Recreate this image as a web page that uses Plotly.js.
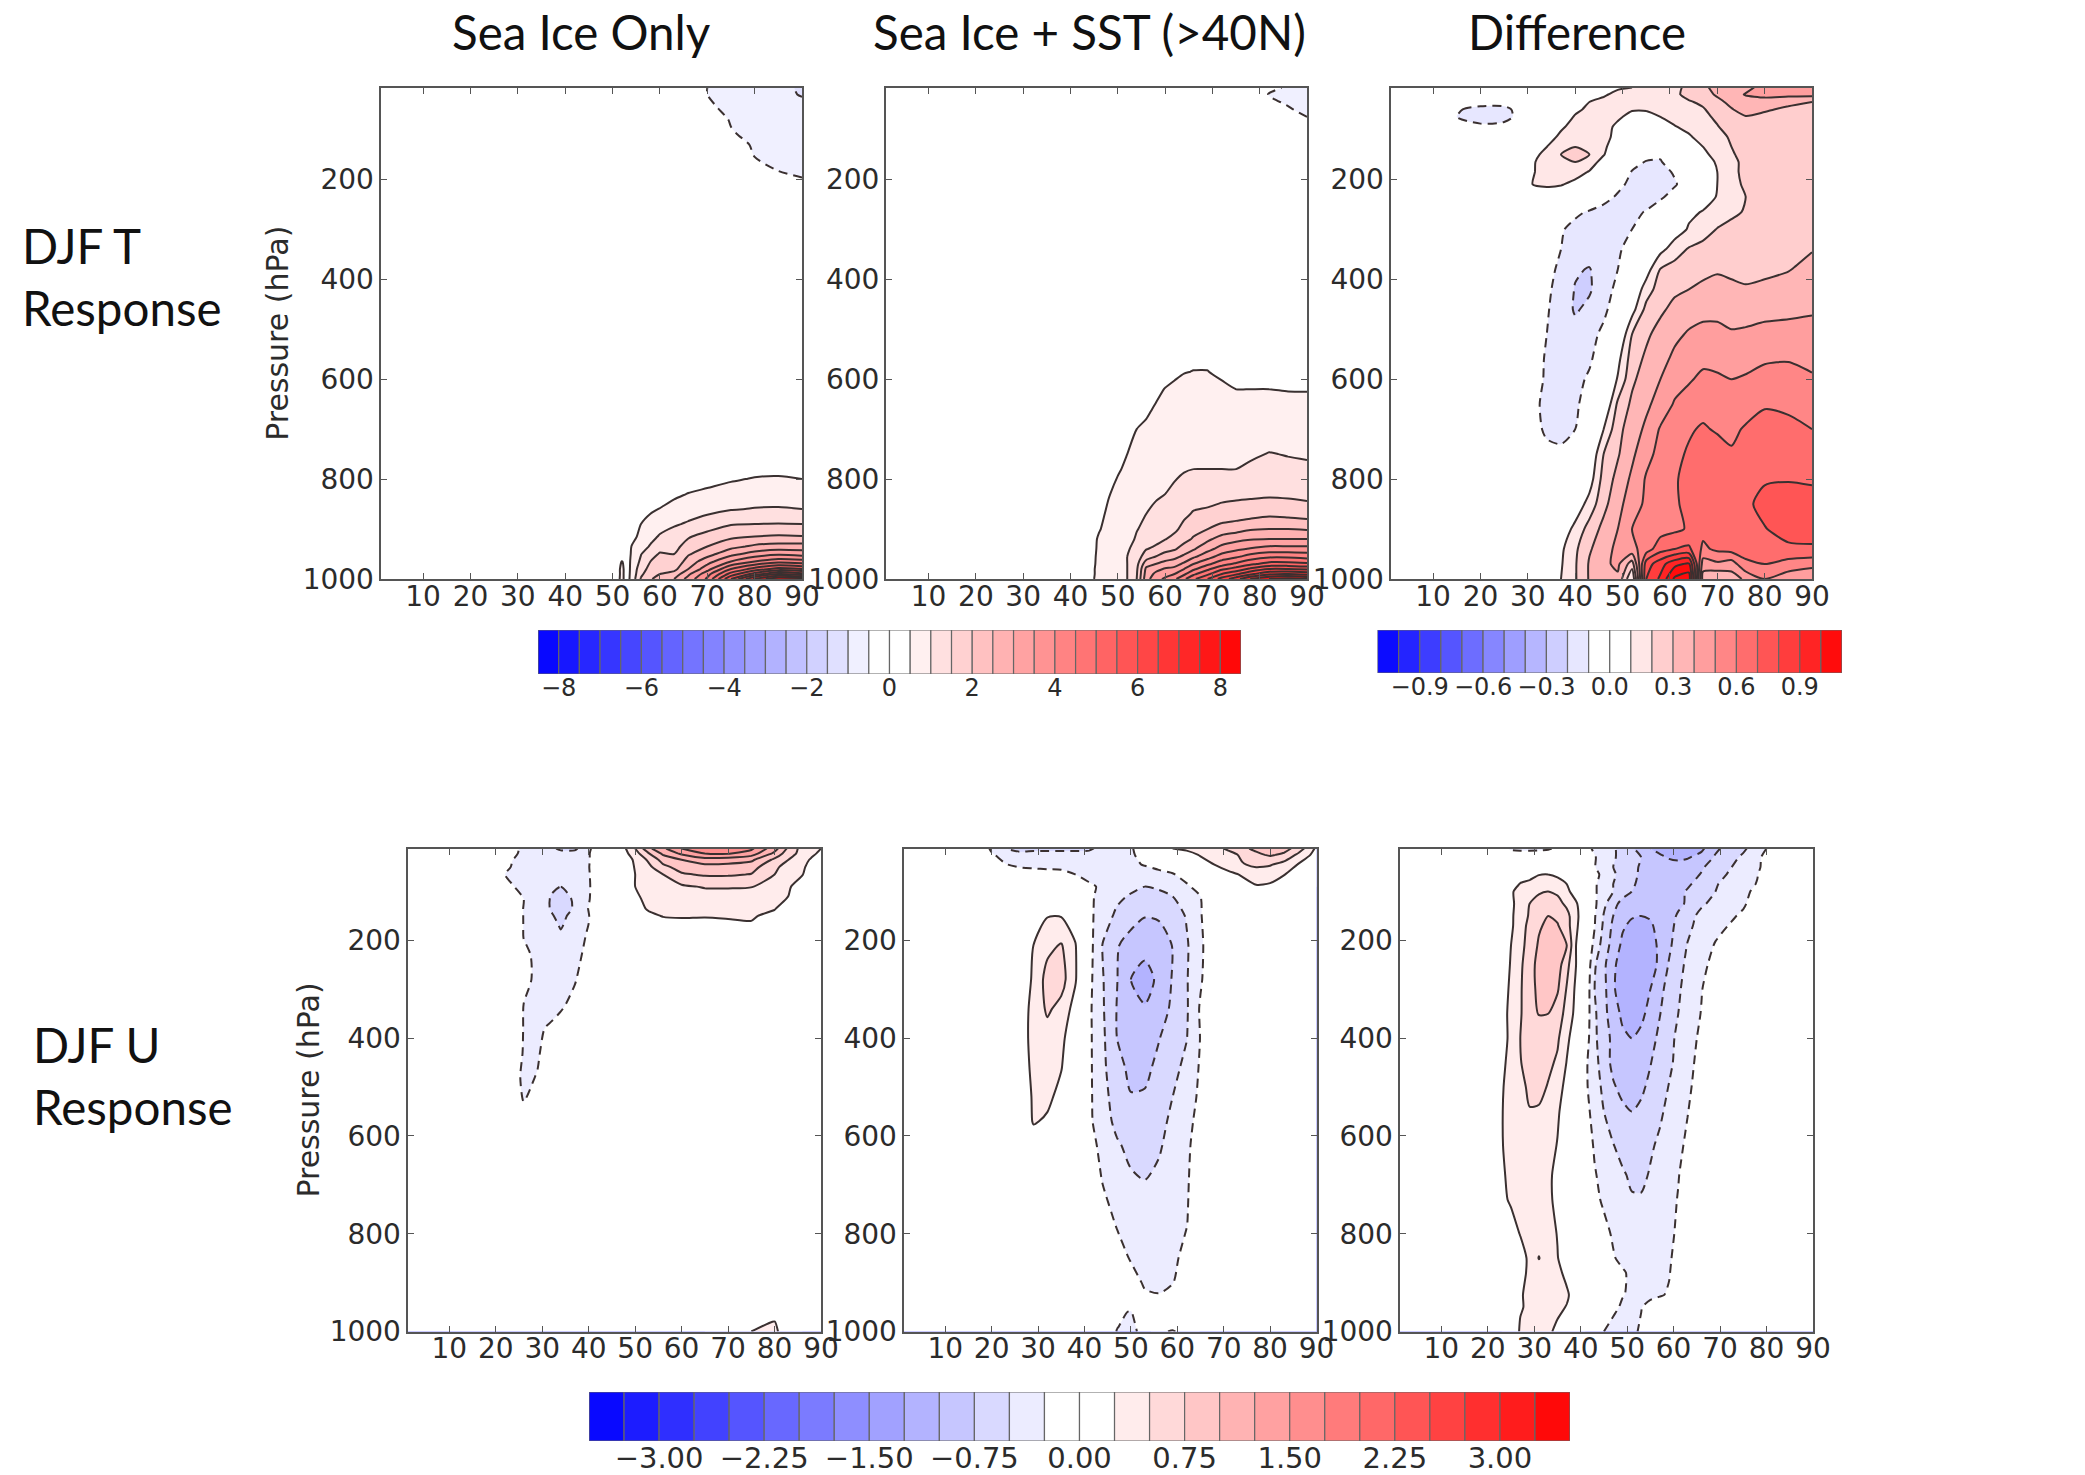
<!DOCTYPE html>
<html><head><meta charset="utf-8">
<script src="https://cdn.plot.ly/plotly-3.0.1.min.js"></script>
<style>html,body{margin:0;padding:0;background:#fff}#c{width:2085px;height:1475px}</style>
</head><body><div id="c"></div>
<script>
// ---------- DJF T, Sea Ice Only ----------
const lat1=[1,10,20,30,40,50,52,53,54,56,58,60,63,66,70,75,80,85,90];
const p1=[16,30,54,80,109,130,155,183,196,230,300,700,760,800,830,860,890,915,935,950,965,980,990,1000];
const z1=[
[0,0,0,0,0,0,0,0,0,0,0,0,0,-.3,-.5,-.6,-.7,-.8,-1.1],
[0,0,0,0,0,0,0,0,0,0,0,0,0,-.3,-.5,-.6,-.68,-.8,-1.05],
[0,0,0,0,0,0,0,0,0,0,0,0,0,-.25,-.45,-.58,-.65,-.72,-.8],
[0,0,0,0,0,0,0,0,0,0,0,0,0,-.2,-.35,-.52,-.6,-.65,-.72],
[0,0,0,0,0,0,0,0,0,0,0,0,0,-.15,-.25,-.48,-.56,-.62,-.66],
[0,0,0,0,0,0,0,0,0,0,0,0,0,-.1,-.2,-.4,-.53,-.58,-.62],
[0,0,0,0,0,0,0,0,0,0,0,0,0,-.05,-.15,-.3,-.5,-.55,-.58],
[0,0,0,0,0,0,0,0,0,0,0,0,0,0,-.1,-.2,-.35,-.5,-.53],
[0,0,0,0,0,0,0,0,0,0,0,0,0,0,-.05,-.15,-.3,-.4,-.5],
[0,0,0,0,0,0,0,0,0,0,0,0,0,0,0,-.05,-.1,-.2,-.3],
[],
[],
[0,0,0,0,0,0,0,0,0,0,0,0,0,0,.05,.1,.2,.22,.2],
[0,0,0,0,0,0,0,0,0,0,0,0,.1,.25,.35,.45,.53,.55,.5],
[0,0,0,0,0,0,0,0,0,0,.05,.2,.4,.52,.6,.72,.78,.8,.78],
[0,0,0,0,0,0,0,0,.05,.2,.42,.52,.68,.8,.88,.97,1.02,1.03,1],
[0,0,0,0,0,0,0,0,.1,.5,.68,.8,.95,1.05,1.2,1.47,1.5,1.52,1.5],
[0,0,0,0,0,0,0,.1,.35,.62,.85,1.05,1.2,1.45,1.7,1.9,2,2.05,2.02],
[0,0,0,0,0,0,.1,.2,.51,.8,1.05,1.3,1.35,1.7,2,2.35,2.6,2.7,2.7],
[0,0,0,0,0,.05,.3,.25,.55,.98,1.3,1.55,1.5,1.95,2.3,2.85,3.2,3.4,3.3],
[0,0,0,0,0,.1,.52,.3,.58,1.1,1.5,1.7,1.65,2.2,2.8,3.5,4,4.3,4.2],
[0,0,0,0,0,.15,.6,.3,.6,1.3,1.65,1.9,1.85,2.5,3.3,4.5,5.2,5.7,5.5],
[0,0,0,0,0,.15,.6,.3,.62,1.4,1.8,2,2.2,2.9,3.8,5.2,6.2,7,6.7],
[0,0,0,0,0,.2,.6,.3,.65,1.55,1.95,2.2,2.5,3.2,4.1,6,7.6,8.45,8.3]];
// ---------- DJF T, Sea Ice + SST ----------
const lat2=[1,30,40,44,46,48,50,52,54,56,58,60,62,64,66,69,72,75,78,82,86,90];
const p2=[16,30,60,75,90,120,500,560,585,620,660,700,750,780,830,870,900,920,940,955,970,980,990,1000];
const z2=[
[0,0,0,0,0,0,0,0,0,0,0,0,0,0,0,0,0,0,0,-.42,-.54,-.6],
[0,0,0,0,0,0,0,0,0,0,0,0,0,0,0,0,0,0,-.2,-.52,-.6,-.65],
[0,0,0,0,0,0,0,0,0,0,0,0,0,0,0,0,0,0,-.1,-.35,-.47,-.58],
[0,0,0,0,0,0,0,0,0,0,0,0,0,0,0,0,0,0,0,-.12,-.27,-.5],
[0,0,0,0,0,0,0,0,0,0,0,0,0,0,0,0,0,0,0,0,-.1,-.3],
[],
[],
[0,0,0,0,0,0,0,.05,.1,.15,.2,.27,.35,.42,.46,.46,.4,.35,.32,.3,.3,.3],
[0,0,0,0,0,0,.03,.1,.17,.23,.3,.38,.45,.49,.505,.505,.45,.41,.4,.38,.37,.36],
[0,0,0,0,0,.03,.1,.2,.28,.35,.43,.51,.55,.58,.6,.6,.55,.5,.5,.5,.49,.49],
[0,0,0,0,.02,.1,.2,.32,.38,.45,.53,.6,.63,.66,.68,.67,.63,.58,.58,.6,.58,.57],
[0,0,0,.02,.08,.18,.28,.4,.5,.55,.63,.68,.72,.75,.77,.75,.72,.7,.72,.74,.72,.7],
[0,0,0,.05,.18,.3,.4,.5,.6,.68,.75,.8,.83,.88,.93,.92,.9,.9,.93,1.02,.98,.95],
[0,0,0,.1,.25,.38,.47,.55,.66,.75,.83,.88,.92,.97,1,1,1,1,1.08,1.15,1.1,1.08],
[0,0,0,.2,.35,.48,.58,.65,.78,.88,.96,1,1.08,1.18,1.25,1.3,1.35,1.38,1.4,1.42,1.4,1.35],
[0,0,0,.28,.42,.55,.63,.72,.9,1,1.07,1.15,1.25,1.4,1.55,1.6,1.7,1.75,1.8,1.9,1.85,1.78],
[0,0,0,.35,.48,.58,.68,.78,.98,1.1,1.2,1.3,1.4,1.65,1.85,2,2.2,2.3,2.45,2.5,2.5,2.45],
[0,0,0,.38,.53,.62,.72,.85,1.05,1.22,1.35,1.48,1.65,1.85,2.05,2.4,2.7,2.85,2.95,3,3,3],
[0,0,0,.39,.54,.65,.78,.95,1.15,1.48,1.6,1.85,1.95,2.2,2.45,2.85,3.2,3.4,3.55,3.7,3.7,3.7],
[0,0,0,.4,.55,.68,.82,1,1.25,1.75,2,2.2,2.35,2.6,2.9,3.3,3.7,3.9,4.2,4.4,4.4,4.3],
[0,0,0,.4,.56,.7,.85,1,1.35,2.3,2.5,2.7,2.8,3.1,3.5,3.9,4.3,4.6,4.9,5.2,5.2,5.1],
[0,0,0,.41,.57,.71,.87,1,1.42,2.6,2.85,3.05,3.15,3.5,3.9,4.4,4.9,5.2,5.6,6,6,5.9],
[0,0,0,.41,.57,.72,.88,1,1.46,2.7,3.1,3.3,3.5,3.9,4.4,4.9,5.5,5.9,6.4,6.9,7,6.8],
[0,0,0,.42,.58,.72,.9,1,1.5,2.8,3.3,3.6,3.9,4.4,4.9,5.5,6.2,6.8,7.5,8,8.2,8]];
// ---------- DJF T, Difference ----------
const lat3=[1,12,15,20,25,28,31,34,37,40,43,46,49,52,55,58,61,64,67,70,73,76,80,85,90];
const p3=[16,30,45,60,75,95,115,135,150,165,185,210,235,265,300,340,380,420,460,510,560,600,650,700,750,800,850,900,940,970,1000];
const z3=[
[0,0,0,0,0,0,0,.01,.02,.03,.05,.07,.09,.1,.15,.16,.18,.22,.28,.33,.32,.36,.45,.45,.42],
[0,0,0,0,0,0,.01,.02,.03,.05,.07,.09,.12,.14,.15,.16,.18,.23,.27,.31,.34,.41,.45,.43,.43],
[0,-.02,-.04,-.06,-.06,-.02,0,.03,.06,.08,.1,.12,.13,.13,.14,.15,.17,.19,.22,.28,.32,.33,.33,.32,.3],
[0,-.03,-.09,-.13,-.13,-.07,-.01,.03,.06,.09,.11,.115,.11,.105,.105,.12,.15,.17,.19,.25,.295,.33,.31,.285,.27],
[0,-.02,-.1,-.14,-.13,-.08,-.02,.02,.07,.105,.12,.125,.11,.08,.08,.1,.125,.15,.18,.215,.26,.295,.28,.26,.25],
[0,0,-.03,-.08,-.07,-.03,.03,.06,.09,.125,.14,.125,.085,.05,.04,.05,.095,.12,.15,.195,.235,.25,.25,.25,.25],
[0,0,0,0,0,0,.03,.07,.115,.145,.16,.13,.07,.04,.03,.03,.05,.09,.13,.175,.21,.24,.25,.25,.25],
[0,0,0,0,0,0,.05,.1,.15,.2,.165,.115,.05,.03,.02,.03,.04,.06,.1,.15,.2,.24,.25,.25,.25],
[0,0,0,0,0,.03,.07,.13,.2,.23,.2,.105,.03,-.03,-.07,-.09,-.05,.03,.08,.13,.19,.23,.25,.25,.25],
[0,0,0,0,0,.04,.09,.14,.18,.2,.14,.07,0,-.07,-.105,-.105,-.06,0,.06,.11,.18,.22,.25,.25,.25],
[0,0,0,0,0,.05,.095,.125,.14,.13,.095,.03,-.03,-.105,-.13,-.13,-.09,-.02,.05,.1,.18,.22,.26,.26,.26],
[0,0,0,0,.02,.05,.1,.11,.105,.08,.05,0,-.07,-.13,-.15,-.15,-.11,-.05,.03,.1,.16,.22,.25,.25,.25],
[0,0,0,0,0,0,.04,.06,.05,.03,0,-.06,-.115,-.14,-.14,-.115,-.06,0,.06,.105,.16,.2,.25,.25,.26],
[0,0,0,0,0,0,.01,-.01,-.04,-.08,-.11,-.14,-.14,-.12,-.095,-.04,.02,.08,.105,.14,.175,.21,.25,.26,.27],
[0,0,0,0,0,0,-.01,-.05,-.09,-.13,-.15,-.15,-.13,-.1,-.05,0,.05,.11,.155,.205,.235,.25,.27,.28,.29],
[0,0,0,0,0,0,-.02,-.06,-.1,-.14,-.16,-.15,-.115,-.06,-.01,.07,.15,.21,.235,.25,.255,.26,.27,.28,.295],
[0,0,0,0,0,0,-.03,-.07,-.12,-.19,-.205,-.15,-.1,-.05,.05,.205,.24,.26,.275,.29,.28,.27,.28,.295,.33],
[0,0,0,0,0,0,-.04,-.08,-.14,-.205,-.21,-.15,-.07,0,.15,.25,.28,.3,.32,.33,.32,.31,.32,.34,.36],
[0,0,0,0,0,0,-.05,-.09,-.15,-.21,-.18,-.12,-.05,.06,.23,.28,.33,.36,.37,.37,.36,.35,.37,.38,.39],
[0,0,0,0,0,0,-.06,-.1,-.14,-.17,-.13,-.08,-.02,.2,.28,.34,.38,.41,.43,.43,.41,.42,.43,.43,.43],
[0,0,0,0,0,0,-.06,-.11,-.13,-.13,-.11,-.06,.07,.25,.32,.37,.42,.45,.48,.47,.46,.47,.49,.495,.48],
[0,0,0,0,0,-.01,-.07,-.11,-.12,-.12,-.09,-.03,.11,.28,.35,.4,.46,.49,.52,.515,.5,.51,.53,.53,.51],
[0,0,0,0,0,-.01,-.09,-.11,-.12,-.115,-.06,-.01,.22,.32,.38,.44,.51,.54,.57,.56,.55,.56,.59,.585,.57],
[0,0,0,0,0,0,-.08,-.11,-.115,-.1,-.03,.1,.27,.35,.42,.51,.56,.59,.61,.59,.58,.61,.64,.62,.6],
[0,0,0,0,0,0,-.02,-.085,-.09,-.05,0,.2,.29,.38,.47,.53,.58,.61,.63,.64,.61,.64,.67,.66,.64],
[0,0,0,0,0,0,0,-.01,-.03,-.02,.05,.24,.33,.42,.51,.55,.59,.63,.65,.65,.65,.67,.69,.695,.69],
[0,0,0,0,0,0,0,0,0,.03,.14,.27,.37,.45,.52,.55,.59,.62,.64,.65,.66,.68,.73,.74,.73],
[0,0,0,0,0,0,0,0,.03,.13,.24,.33,.4,.5,.53,.56,.58,.61,.63,.65,.66,.67,.695,.74,.73],
[0,0,0,0,0,0,0,0,.08,.18,.29,.35,.43,.47,.55,.66,.7,.72,.58,.62,.64,.64,.67,.68,.69],
[0,0,0,0,0,0,0,0,.09,.19,.31,.38,.42,.25,.75,.86,.97,1.02,.45,.48,.45,.58,.6,.56,.53],
[0,0,0,0,0,0,0,0,.1,.19,.31,.36,.38,.1,.8,.92,1.12,1.16,.35,.3,.35,.42,.5,.44,.42]];
// ---------- DJF U, Sea Ice Only ----------
const lat4=[1,17,22,24,26,29,32,34,37,40,42,45,48,50,53,56,60,65,70,75,80,83,86,88,90];
const p4=[12,22,35,50,65,90,115,135,150,165,190,230,280,330,380,430,480,530,580,700,960,980,1000];
const z4=[
[0,0,-.1,-.2,-.3,-.35,-.45,-.55,-.55,-.3,-.1,0,.25,.5,.95,1.2,1.5,1.7,1.72,1.55,1.1,.7,.4,.3,.25],
[0,-.05,-.12,-.22,-.3,-.33,-.38,-.42,-.42,-.27,-.1,.02,.2,.4,.75,1.05,1.3,1.5,1.52,1.38,.95,.6,.42,.3,.2],
[0,-.15,-.2,-.26,-.3,-.33,-.35,-.38,-.36,-.27,-.1,0,.12,.3,.55,.85,1,1.15,1.12,1.05,.7,.5,.33,.22,.15],
[0,-.05,-.22,-.27,-.3,-.33,-.38,-.42,-.36,-.26,-.1,.02,.1,.27,.45,.68,.85,.9,.9,.85,.55,.4,.28,.18,.1],
[0,0,-.25,-.29,-.32,-.38,-.42,-.45,-.38,-.27,-.1,.02,.1,.25,.38,.5,.72,.78,.78,.74,.5,.36,.26,.15,.05],
[0,0,-.12,-.25,-.3,-.38,-.47,-.5,-.42,-.28,-.1,.02,.12,.25,.35,.42,.46,.52,.52,.51,.38,.28,.12,.05,0],
[0,0,-.03,-.12,-.25,-.36,-.52,-.56,-.48,-.27,-.1,.02,.14,.22,.29,.33,.36,.37,.38,.38,.3,.24,.08,.02,0],
[0,0,-.01,-.08,-.26,-.36,-.52,-.58,-.48,-.24,-.08,.02,.1,.16,.28,.3,.31,.32,.32,.33,.26,.15,.03,0,0],
[0,0,0,-.05,-.26,-.35,-.48,-.56,-.42,-.26,-.08,0,.05,.08,.2,.26,.27,.26,.27,.27,.2,.08,.01,0,0],
[0,0,0,-.03,-.26,-.34,-.44,-.53,-.4,-.25,-.06,0,.02,.03,.08,.18,.2,.21,.22,.24,.1,.02,0,0,0],
[0,0,0,-.02,-.26,-.33,-.42,-.47,-.36,-.22,-.03,0,0,0,.02,.06,.08,.08,.08,.08,.02],
[0,0,0,-.01,-.2,-.3,-.36,-.38,-.32,-.18,-.02],
[0,0,0,0,-.2,-.29,-.33,-.33,-.27,-.1],
[0,0,0,-.05,-.25,-.29,-.3,-.29,-.18,-.04],
[0,0,0,-.07,-.26,-.27,-.23,-.16,-.05],
[0,0,0,-.1,-.27,-.27,-.15,-.05],
[0,0,0,-.18,-.29,-.24,-.07,-.02],
[0,0,0,-.05,-.25,-.1,-.02],
[0,0,0,0,-.1,-.02],
[],
[],
[0,0,0,0,0,0,0,0,0,0,0,0,0,0,0,0,0,0,.02,.15,.26,.03],
[0,0,0,0,0,0,0,0,0,0,0,0,0,0,0,0,0,0,.05,.25,.3,.1]];
// ---------- DJF U, Sea Ice + SST ----------
const lat5=[1,18,20,23,26,29,32,35,38,41,44,47,50,53,56,59,62,65,68,71,74,77,80,83,86,90];
const p5=[12,25,45,65,90,110,150,210,280,340,400,460,520,570,620,690,780,850,900,935,960,990,1000];
const z5=[
[0,-.1,-.3,-.5,-.55,-.55,-.55,-.55,-.55,-.55,-.4,-.3,-.27,-.15,-.05,.25,.3,.35,.4,.55,.7,.8,.88,.85,.65,.2],
[0,0,-.22,-.35,-.45,-.42,-.42,-.42,-.42,-.4,-.35,-.3,-.27,-.2,-.12,.02,.15,.27,.33,.4,.55,.7,.78,.7,.45,.15],
[0,0,-.1,-.24,-.3,-.32,-.33,-.33,-.35,-.36,-.36,-.33,-.28,-.24,-.18,-.1,0,.14,.25,.34,.48,.55,.52,.4,.24,.08],
[0,0,0,-.1,-.12,-.14,-.16,-.18,-.25,-.34,-.36,-.35,-.33,-.33,-.31,-.27,-.15,-.02,.1,.2,.27,.36,.35,.26,.14,.03],
[0,0,0,0,0,-.02,-.03,-.05,-.1,-.2,-.3,-.35,-.43,-.5,-.46,-.38,-.29,-.15,-.03,.1,.17,.23,.21,.14,.05,0],
[0,0,0,0,0,0,-.01,-.02,-.08,-.2,-.34,-.44,-.53,-.62,-.58,-.5,-.38,-.25,-.06,-.01,.05,.08,.07,.03],
[0,0,0,0,0,.05,.24,.24,.1,-.2,-.36,-.56,-.66,-.74,-.72,-.64,-.48,-.27,-.04],
[0,0,0,0,.05,.25,.43,.52,.27,-.15,-.52,-.73,-.85,-.92,-.9,-.74,-.53,-.3,-.05],
[0,0,0,0,.1,.28,.6,.6,.28,-.18,-.49,-.74,-1,-1.1,-.95,-.73,-.52,-.28,-.04],
[0,0,0,0,.12,.32,.54,.42,.15,-.2,-.48,-.76,-.98,-.98,-.88,-.7,-.53,-.22,-.03],
[0,0,0,0,.12,.33,.4,.3,.1,-.2,-.46,-.75,-.88,-.85,-.76,-.65,-.51,-.24,-.02],
[0,0,0,0,.1,.31,.34,.26,.06,-.2,-.45,-.68,-.8,-.8,-.7,-.58,-.43,-.22,-.02],
[0,0,0,0,.07,.28,.3,.18,.03,-.2,-.43,-.6,-.74,-.73,-.62,-.5,-.37,-.2,-.01],
[0,0,0,0,.04,.27,.22,.1,.01,-.2,-.4,-.56,-.67,-.66,-.59,-.44,-.33,-.16,-.01],
[0,0,0,0,.01,.12,.08,.03,0,-.15,-.33,-.47,-.56,-.6,-.53,-.41,-.3,-.12],
[0,0,0,0,0,.01,0,0,0,-.06,-.27,-.4,-.47,-.5,-.45,-.37,-.28,-.1],
[0,0,0,0,0,0,0,0,0,-.02,-.12,-.27,-.35,-.38,-.37,-.33,-.26,-.07],
[0,0,0,0,0,0,0,0,0,0,-.04,-.14,-.27,-.33,-.34,-.3,-.18,-.03],
[0,0,0,0,0,0,0,0,0,0,-.02,-.08,-.15,-.28,-.3,-.26,-.08,-.01],
[0,0,0,0,0,0,0,0,0,0,0,-.08,-.12,-.2,-.22,-.15,-.03],
[0,0,0,0,0,0,0,0,0,0,0,-.22,-.26,-.1,-.06],
[0,0,0,0,0,0,0,0,0,0,-.05,-.24,-.32,-.12,.1,.1],
[0,0,0,0,0,0,0,0,0,0,-.05,-.26,-.35,-.12,.15,.3,.05]];
// ---------- DJF U, Difference ----------
const lat6=[1,20,23,25,27,29,31,33,35,37,39,41,43,45,47,49,51,53,55,57,59,61,63,66,69,72,75,78,81,90];
const p6=[12,30,50,65,85,100,125,150,170,210,250,300,350,400,450,500,550,620,680,730,800,850,880,925,950,1000];
const z6=[
[0,-.1,-.2,-.28,-.3,-.3,-.3,-.28,-.2,-.1,-.05,-.15,-.3,-.42,-.48,-.55,-.72,-.85,-1,-1.08,-1.1,-1.1,-1.08,-1.05,-.8,-.65,-.55,-.35,-.2,0],
[0,0,-.05,-.1,-.1,-.1,-.08,-.05,-.02,0,0,-.08,-.23,-.38,-.48,-.55,-.67,-.75,-.83,-.95,-1.02,-1.04,-1.02,-.92,-.72,-.6,-.45,-.29,-.15,0],
[0,0,0,0,0,0,0,0,0,0,0,-.05,-.24,-.36,-.5,-.58,-.68,-.78,-.82,-.86,-.9,-.92,-.88,-.77,-.68,-.52,-.4,-.28,-.15,0],
[0,0,0,.02,.1,.18,.24,.25,.2,.1,.02,-.1,-.2,-.3,-.48,-.55,-.7,-.78,-.82,-.84,-.85,-.85,-.82,-.74,-.62,-.47,-.36,-.26,-.1,0],
[0,0,0,.1,.27,.3,.37,.4,.36,.25,.1,-.08,-.22,-.35,-.5,-.6,-.72,-.8,-.83,-.83,-.83,-.8,-.78,-.67,-.52,-.42,-.32,-.24,-.08,0],
[0,0,.03,.22,.33,.4,.47,.5,.46,.3,.15,-.05,-.22,-.36,-.5,-.62,-.75,-.82,-.85,-.85,-.84,-.8,-.73,-.62,-.5,-.38,-.3,-.2,-.06,0],
[0,0,.05,.2,.35,.5,.6,.63,.58,.45,.28,.05,-.2,-.45,-.65,-.85,-.92,-.95,-.95,-.92,-.87,-.8,-.72,-.53,-.44,-.36,-.29,-.1,-.03,0],
[0,0,.05,.2,.4,.52,.65,.75,.7,.58,.32,.05,-.23,-.52,-.75,-.9,-.98,-1,-.98,-.92,-.84,-.72,-.58,-.44,-.37,-.3,-.2,-.06,-.02,0],
[0,0,.05,.2,.42,.55,.72,.8,.77,.6,.3,.04,-.24,-.55,-.8,-.97,-1.05,-1.08,-1.03,-.93,-.83,-.68,-.55,-.42,-.33,-.24,-.1,-.02,0,0],
[0,0,.08,.25,.42,.6,.78,.85,.85,.75,.25,.02,-.33,-.62,-.85,-1.05,-1.15,-1.18,-1.1,-.95,-.8,-.62,-.49,-.38,-.23,-.08,-.02],
[0,0,.1,.27,.45,.66,.82,.9,.87,.58,.25,0,-.47,-.7,-.95,-1.12,-1.2,-1.2,-1.1,-.95,-.73,-.56,-.46,-.33,-.15,-.04],
[0,0,.12,.3,.47,.67,.8,.87,.78,.48,.2,-.05,-.5,-.68,-.97,-1.12,-1.18,-1.15,-1,-.82,-.66,-.53,-.42,-.26,-.1,-.02],
[0,0,.15,.32,.48,.63,.76,.75,.62,.42,.17,-.08,-.46,-.68,-.88,-1.05,-1.1,-1.05,-.93,-.76,-.63,-.5,-.38,-.24,-.08,-.01],
[0,0,.15,.31,.5,.6,.65,.63,.54,.3,.12,-.12,-.45,-.66,-.8,-.95,-1,-.95,-.83,-.7,-.57,-.45,-.35,-.2,-.06],
[0,.01,.2,.32,.49,.58,.6,.56,.46,.24,.08,-.2,-.42,-.62,-.82,-.9,-.92,-.88,-.76,-.65,-.55,-.43,-.34,-.15,-.03],
[0,.02,.23,.33,.44,.54,.58,.48,.33,.19,.05,-.2,-.4,-.55,-.72,-.82,-.84,-.79,-.7,-.6,-.49,-.41,-.31,-.1,-.02],
[0,.03,.24,.33,.42,.49,.47,.39,.28,.14,.03,-.15,-.36,-.5,-.62,-.7,-.75,-.71,-.63,-.54,-.44,-.36,-.26,-.08,-.01],
[0,.03,.24,.31,.35,.38,.38,.33,.24,.1,.02,-.1,-.28,-.4,-.49,-.58,-.63,-.6,-.53,-.46,-.38,-.31,-.2,-.05],
[0,.02,.22,.3,.33,.34,.34,.3,.18,.07,.01,-.07,-.23,-.33,-.4,-.47,-.54,-.55,-.48,-.42,-.34,-.26,-.16,-.03],
[0,.01,.2,.28,.3,.33,.33,.29,.2,.05,.01,-.04,-.19,-.29,-.35,-.41,-.48,-.48,-.43,-.38,-.31,-.24,-.13,-.02],
[0,0,.05,.15,.26,.33,.38,.34,.24,.1,.02,0,-.08,-.18,-.28,-.33,-.38,-.39,-.37,-.34,-.29,-.22,-.1,-.01],
[0,0,.01,.06,.15,.3,.51,.37,.26,.12,.03,0,-.03,-.12,-.23,-.31,-.35,-.36,-.35,-.33,-.28,-.17,-.06],
[0,0,0,.05,.17,.3,.36,.34,.3,.2,.05,0,-.02,-.08,-.16,-.22,-.3,-.33,-.33,-.32,-.27,-.1,-.03],
[0,0,0,.03,.23,.3,.34,.33,.32,.28,.15,.02,0,-.03,-.1,-.24,-.28,-.3,-.3,-.28,-.22,-.06,-.01],
[0,0,0,.03,.23,.29,.32,.32,.3,.24,.08,0,-.02,-.1,-.2,-.28,-.29,-.26,-.18,-.08,-.02],
[0,0,0,.05,.28,.3,.31,.29,.2,.08,.02,0,-.1,-.25,-.33,-.34,-.3,-.22,-.06,-.02]];

// ---------- Text and scale values ----------
const panelTitles=["Sea Ice Only","Sea Ice + SST (>40N)","Difference"];
const rowLabels=[["DJF T",20,245],["Response",20,307],["DJF U",31,1044],["Response",31,1106]];
const latTicks=[10,20,30,40,50,60,70,80,90];
const presTicks=[200,400,600,800,1000];
const tTickVals=[-8,-6,-4,-2,0,2,4,6,8];
const dTickVals=[-.9,-.6,-.3,0,.3,.6,.9];
const uTickVals=[-3,-2.25,-1.5,-.75,0,.75,1.5,2.25,3];
const tTickText=["\u22128","\u22126","\u22124","\u22122","0","2","4","6","8"];
const dTickText=["\u22120.9","\u22120.6","\u22120.3","0.0","0.3","0.6","0.9"];
const uTickText=["\u22123.00","\u22122.25","\u22121.50","\u22120.75","0.00","0.75","1.50","2.25","3.00"];

// ---------- Layout ----------
const W=2085,H=1475;
const INK='#2b2b2b', LINE='#3a3030', SPINE='#555555';
const scales={
 T:{lim:8.5,step:.5},
 D:{lim:1.1,step:.1},
 U:{lim:3.5,step:.25}
};
function bands(s){const n=Math.round(2*s.lim/s.step),half=n/2,out=[];
 for(let i=0;i<n;i++){
  const lo=-s.lim+i*s.step, k=i<half?half-1-i:i-half, f=Math.min(1,k/(half-.5)), v=Math.round(255*(1-f));
  out.push({lo:lo,color:i<half?`rgb(${v},${v},255)`:`rgb(255,${v},${v})`});
 }
 return out;}
function colorscale(s){const b=bands(s),cs=[];
 b.forEach((x,i)=>{cs.push([i/b.length,x.color]);cs.push([(i+1)/b.length,x.color]);});
 return cs;}
function full(z,n){return z.map(r=>{const o=r.slice();while(o.length<n)o.push(0);return o;});}

const panels=[
 {lat:lat1,p:p1,z:z1,sc:'T',box:[380.5,802,87.5,579],top:16,stand:5},
 {lat:lat2,p:p2,z:z2,sc:'T',box:[886,1307,87.5,579],top:16},
 {lat:lat3,p:p3,z:z3,sc:'D',box:[1390.5,1812,87.5,579],top:16},
 {lat:lat4,p:p4,z:z4,sc:'U',box:[407.5,821,848.5,1331.5],top:12,stand:1},
 {lat:lat5,p:p5,z:z5,sc:'U',box:[903.5,1316.5,848.5,1331.5],top:12},
 {lat:lat6,p:p6,z:z6,sc:'U',box:[1399.5,1813,848.5,1331.5],top:12}
];
const bars=[
 {sc:'T',box:[538,1241,630,674],vals:tTickVals,text:tTickText,fs:24,off:-3},
 {sc:'D',box:[1377.5,1842,630,673],vals:dTickVals,text:dTickText,fs:24,off:-3},
 {sc:'U',box:[589,1570,1392,1441],vals:uTickVals,text:uTickText,fs:29,off:-3}
];
const traces=[],layout={width:W,height:H,margin:{l:0,r:0,t:0,b:0},paper_bgcolor:'#fff',plot_bgcolor:'#fff',showlegend:false,hovermode:false,annotations:[]};
function axName(i,c){return i===1?c:c+i;}
function layName(i,c){return (c==='x'?'xaxis':'yaxis')+(i===1?'':i);}
panels.forEach((P,k)=>{
 const i=k+1,s=scales[P.sc],z=full(P.z,P.lat.length),xa=axName(i,'x'),ya=axName(i,'y');
 const base={type:'contour',x:P.lat,y:P.p,z:z,xaxis:xa,yaxis:ya,showscale:false,hoverinfo:'skip',autocontour:false};
 traces.push(Object.assign({},base,{zmin:-s.lim,zmax:s.lim,zauto:false,colorscale:colorscale(s),
   contours:{coloring:'fill',start:-s.lim,end:s.lim,size:s.step,showlines:false},line:{width:0,smoothing:.7}}));
 traces.push(Object.assign({},base,{contours:{coloring:'none',start:s.step,end:s.lim,size:s.step},
   line:{color:LINE,width:2,dash:'solid',smoothing:.7}}));
 traces.push(Object.assign({},base,{contours:{coloring:'none',start:-s.lim,end:-s.step,size:s.step},
   line:{color:LINE,width:2,dash:'9px,6px',smoothing:.7}}));
 const b=P.box;
 layout[layName(i,'x')]={domain:[b[0]/W,b[1]/W],anchor:ya,range:[1,90],tickmode:'array',tickvals:latTicks,ticktext:latTicks.map(String),
   ticks:'inside',ticklen:6,tickcolor:SPINE,showline:true,linecolor:SPINE,linewidth:2,mirror:'allticks',showgrid:false,zeroline:false,
   tickangle:0,ticklabelstandoff:-9,tickfont:{family:'DejaVu Sans',size:28,color:INK}};
 const yy={domain:[1-b[3]/H,1-b[2]/H],anchor:xa,range:[1000,P.top],tickmode:'array',tickvals:presTicks,ticktext:presTicks.map(String),
   ticks:'inside',ticklen:6,tickcolor:SPINE,showline:true,linecolor:SPINE,linewidth:2,mirror:'allticks',showgrid:false,zeroline:false,
   ticklabelstandoff:-1,tickfont:{family:'DejaVu Sans',size:28,color:INK}};
 if(P.stand!==undefined) yy.title={text:'Pressure (hPa)',font:{family:'DejaVu Sans',size:30,color:INK},standoff:P.stand};
 layout[layName(i,'y')]=yy;
});
bars.forEach((B,k)=>{
 const i=panels.length+k+1,s=scales[B.sc],bd=bands(s),b=B.box,xa=axName(i,'x'),ya=axName(i,'y');
 traces.push({type:'bar',orientation:'h',xaxis:xa,yaxis:ya,y:bd.map(()=>0),x:bd.map(()=>s.step),base:bd.map(q=>q.lo),width:1,
   marker:{color:bd.map(q=>q.color),line:{color:'#666',width:1.2}},hoverinfo:'skip'});
 layout[layName(i,'x')]={domain:[b[0]/W,b[1]/W],anchor:ya,range:[-s.lim,s.lim],tickmode:'array',tickvals:B.vals,ticktext:B.text,
   ticks:'',showgrid:false,zeroline:false,showline:false,tickangle:0,ticklabelstandoff:B.off,tickfont:{family:'DejaVu Sans',size:B.fs,color:INK}};
 layout[layName(i,'y')]={domain:[1-b[3]/H,1-b[2]/H],anchor:xa,range:[-.5,.5],showticklabels:false,ticks:'',showgrid:false,zeroline:false};
});
const titleX=[581,1089,1577];
panelTitles.forEach((t,i)=>layout.annotations.push({xref:'paper',yref:'paper',x:titleX[i]/W,y:1-31/H,xanchor:'center',yanchor:'middle',showarrow:false,
  text:t,font:{family:'Lato',size:47.5,color:'#111'}}));
rowLabels.forEach(r=>layout.annotations.push({xref:'paper',yref:'paper',x:r[1]/W,y:1-r[2]/H,xanchor:'left',yanchor:'middle',showarrow:false,
  text:r[0],font:{family:'Lato',size:47.5,color:'#111'}}));
Plotly.newPlot('c',traces,layout,{staticPlot:true,displayModeBar:false});
</script></body></html>
